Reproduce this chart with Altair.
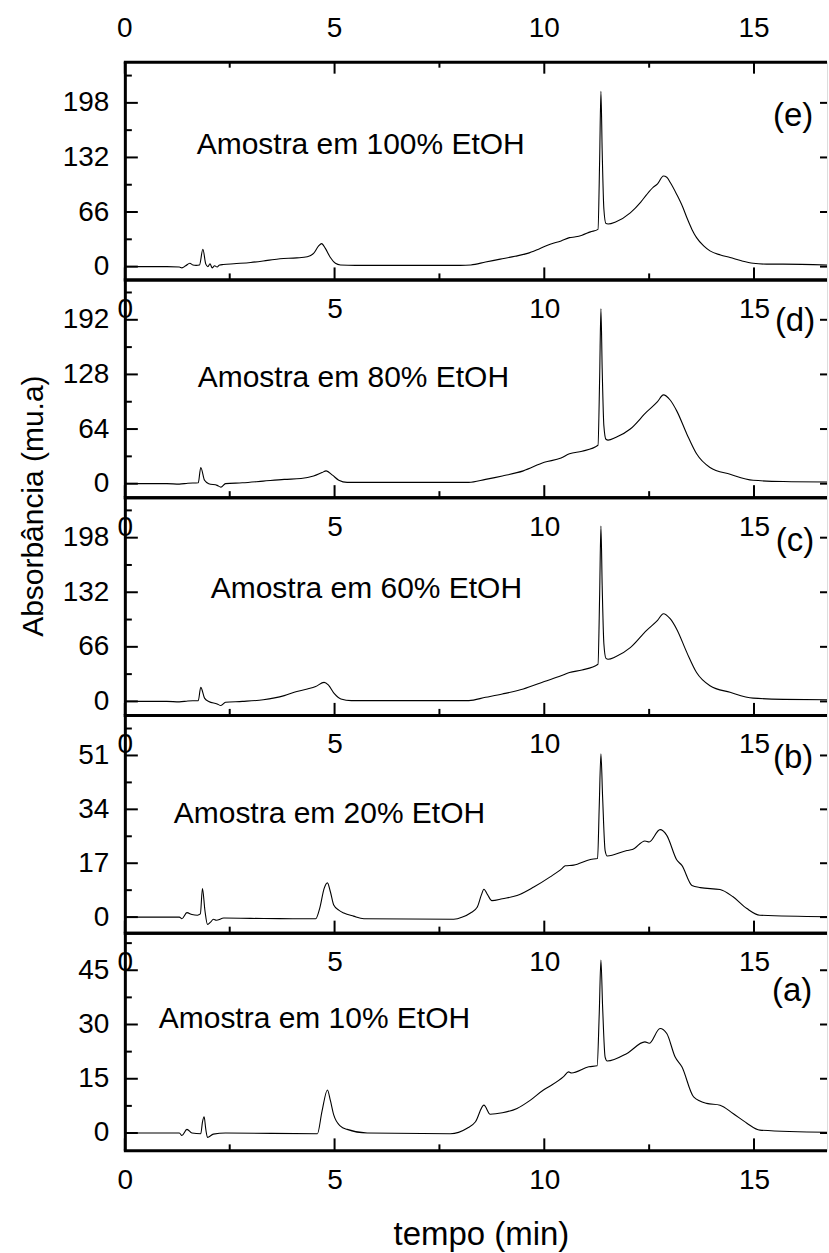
import altair as alt
import pandas as pd

FONT = "Liberation Sans"
W, H = 703, 218
X_DOMAIN = [0, 16.74]
X_MAJOR = [0, 5, 10, 15]
X_MINOR = [2.5, 7.5, 12.5]

# ---- panel (e) 100% EtOH
e_t = [0.0, 1.0, 1.3, 1.36, 1.45, 1.55, 1.62, 1.7, 1.78, 1.86, 1.93, 1.98, 2.03, 2.08, 2.14, 2.2, 2.26,
       2.35, 2.6, 3.0, 3.4, 3.7, 4.1, 4.35, 4.5, 4.62, 4.69, 4.78, 4.9, 5.02, 5.14, 5.5, 8.0, 8.25, 8.6,
       8.95, 9.3, 9.6, 9.9, 10.14, 10.4, 10.6, 10.75, 10.9, 11.1, 11.28, 11.32, 11.35, 11.38, 11.42,
       11.47, 11.52, 11.7, 12.05, 12.3, 12.44, 12.6, 12.7, 12.84, 12.92, 13.0, 13.16, 13.3, 13.4, 13.52,
       13.63, 13.8, 13.95, 14.2, 14.43, 14.7, 14.98, 15.3, 15.69, 16.74]
e_v = [0, 0, -0.5, -1.5, 1, 4, 2, 1.5, 2, 21, 3, 0, 3.5, -1.5, 1, -0.5, 2,
       2.5, 3.5, 5, 7.5, 9.5, 10.5, 12, 16, 25, 27.8, 22, 11, 4, 2, 1.5, 1.5, 2, 5.5,
       9, 12.5, 16, 22, 27, 31, 35, 36, 38, 42, 45, 130, 212, 140, 70,
       52, 51.5, 54, 65, 78, 87, 96, 100, 109.5, 108, 102, 87, 72, 59, 45,
       35, 25, 19, 14, 11, 7, 4, 3, 3, 2]

# ---- panel (d) 80% EtOH
d_t = [0.0, 1.0, 1.3, 1.5, 1.75, 1.81, 1.9, 2.0, 2.2, 2.29, 2.4, 2.8, 3.3, 3.8, 4.2, 4.5, 4.7, 4.8,
       4.95, 5.1, 5.3, 8.2, 8.6, 9.0, 9.5, 10.0, 10.4, 10.6, 10.9, 11.28, 11.32, 11.35, 11.38, 11.42,
       11.47, 11.52, 11.7, 12.05, 12.44, 12.7, 12.84, 13.0, 13.16, 13.4, 13.63, 13.95, 14.43, 14.98,
       15.7, 16.74]
d_v = [0, 0, -0.5, 0.5, 1, 19, 4, 0, -2, -4, 0, 1, 3, 5, 6, 9, 13, 15,
       10, 4, 1.5, 1.5, 5, 9, 15, 25, 30, 35, 38, 45, 125, 205, 135, 68,
       52, 51, 54, 64, 84, 96, 104, 98, 85, 58, 35, 19, 11, 4,
       2.5, 2]

# ---- panel (c) 60% EtOH
c_t = [0.0, 1.0, 1.3, 1.5, 1.75, 1.81, 1.9, 2.0, 2.2, 2.29, 2.4, 2.8, 3.3, 3.8, 4.1, 4.35, 4.55, 4.75,
       4.85, 5.0, 5.15, 5.4, 8.2, 8.6, 9.0, 9.5, 10.0, 10.4, 10.6, 10.9, 11.28, 11.32, 11.35, 11.38,
       11.42, 11.47, 11.52, 11.7, 12.05, 12.44, 12.7, 12.84, 13.0, 13.16, 13.4, 13.63, 13.95, 14.43,
       14.98, 15.7, 16.74]
c_v = [0, 0, -0.5, 0.5, 1, 17, 4, 0, -3, -5, -1, 0, 2, 7, 12, 15, 18, 23,
       20, 9, 3, 1, 1, 5, 9, 15, 24, 31, 35, 38, 45, 130, 212, 140,
       70, 52, 51, 54, 65, 86, 98, 106, 100, 87, 59, 35, 19, 11,
       4, 2.5, 2]

# ---- panel (b) 20% EtOH
b_t = [0.0, 1.3, 1.36, 1.48, 1.6, 1.73, 1.8, 1.85, 1.91, 1.97, 2.05, 2.11, 2.18, 2.36, 3.0, 4.0, 4.55,
       4.65, 4.75, 4.83, 4.9, 4.98, 5.1, 5.22, 5.45, 5.7, 7.84, 8.05, 8.24, 8.4, 8.5, 8.56, 8.65, 8.75,
       9.0, 9.35, 9.75, 10.14, 10.42, 10.5, 10.7, 11.1, 11.27, 11.31, 11.35, 11.39, 11.45, 11.5, 11.97,
       12.1, 12.4, 12.5, 12.76, 12.92, 13.16, 13.28, 13.52, 13.72, 14.19, 14.5, 14.83, 15.14, 16.74]
b_v = [0, 0, -0.5, 1.4, 0.8, 0.6, 1.0, 9, 2, -2.3, -1.5, -0.7, -1, -0.3, -0.4, -0.5, -0.5,
       3, 9, 10.8, 8, 3.8, 2.2, 1.3, 0.3, -0.5, -0.7, 0, 1.3, 3.1, 7, 8.8, 7, 5.2,
       5.8, 6.8, 9.5, 12.7, 15.3, 16.2, 16.4, 18.2, 18.5, 35, 51.5, 38, 21, 19.3, 21,
       21.3, 24, 23.7, 27.6, 25.8, 18, 16.3, 10, 9.3, 8.7, 6.4, 2.7, 0.6, 0.1]

# ---- panel (a) 10% EtOH
a_t = [0.0, 1.3, 1.36, 1.48, 1.6, 1.81, 1.85, 1.89, 1.93, 1.97, 2.11, 2.4, 4.59, 4.7, 4.83, 4.9, 4.98,
       5.14, 5.3, 5.78, 7.76, 8.16, 8.36, 8.56, 8.71, 9.0, 9.35, 9.67, 9.98, 10.14, 10.46, 10.58, 10.65,
       11.06, 11.26, 11.31, 11.35, 11.39, 11.45, 11.5, 11.97, 12.4, 12.5, 12.76, 12.92, 13.12, 13.28,
       13.56, 13.87, 14.19, 14.5, 14.83, 15.14, 16.74]
a_v = [0, 0, -0.7, 1.0, 0, -0.2, 3, 4.5, 1, -1.2, -0.3, 0, -0.2, 6, 11.9, 9, 5,
       1.9, 1.0, 0, -0.2, 1.3, 3.1, 7.7, 5.2, 5.6, 6.8, 9.1, 11.9, 13, 15.6, 16.9, 16.6,
       18.3, 18.6, 33, 47.8, 35, 21, 19.9, 22, 25.2, 24.8, 28.9, 27.5, 21, 18.3,
       10, 8.2, 7.7, 5.4, 2.7, 0.8, 0.2]

panel_tags = ["(e)", "(d)", "(c)", "(b)", "(a)"]
panel_labels = ["Amostra em 100% EtOH", "Amostra em 80% EtOH", "Amostra em 60% EtOH",
                "Amostra em 20% EtOH", "Amostra em 10% EtOH"]
y_domains = [[-15.5, 247.8], [-15.8, 239.3], [-16.3, 247.0], [-4.9, 63.8], [-4.8, 55.4]]
y_major = [[0, 66, 132, 198], [0, 64, 128, 192], [0, 66, 132, 198], [0, 17, 34, 51], [0, 15, 30, 45]]
y_minor = [[33, 99, 165, 231], [32, 96, 160, 224], [33, 99, 165, 231], [8.5, 25.5, 42.5, 59.5],
           [7.5, 22.5, 37.5, 52.5]]
series = [(e_t, e_v), (d_t, d_v), (c_t, c_v), (b_t, b_v), (a_t, a_v)]
y_title = "Absorbância (mu.a)"
x_title = "tempo (min)"

# layout (pixels relative to each panel's plot area)
label_pos = [(72, 83), (73, 99), (86, 92), (49, 99), (34, 86)]
tag_pos = [(669, 54), (671, 42), (671, 44), (669, 43), (668, 58)]

BLACK = "black"
TICK_FS = 28


def one(df_cols):
    return pd.DataFrame(df_cols)


def make_panel(i):
    t, v = series[i]
    xs = alt.Scale(domain=X_DOMAIN, nice=False, zero=False)
    ys = alt.Scale(domain=y_domains[i], nice=False, zero=False)
    xaxis = alt.Axis(
        values=X_MAJOR, ticks=False, grid=False, domain=False, labelFontSize=TICK_FS,
        labelPadding=16, labelFont=FONT, labelColor=BLACK,
        labelFlush=False, labelOverlap=False, title=None, format="d")
    yaxis = alt.Axis(
        values=y_major[i], ticks=False, grid=False, labelFontSize=TICK_FS, labelPadding=16,
        labelFont=FONT, labelColor=BLACK, domainColor=BLACK, domainWidth=3,
        labelFlush=False, labelOverlap=False, title=None, format="d")
    xenc = alt.X("x:Q", scale=xs, axis=xaxis, title=None)
    yenc = alt.Y("y:Q", scale=ys, axis=yaxis, title=None)

    line = alt.Chart(pd.DataFrame({"x": t, "y": v})).mark_line(
        color=BLACK, strokeWidth=1.1, clip=True, interpolate="monotone"
    ).encode(x=xenc, y=yenc)
    layers = [line]
    # bottom and top frame lines
    layers.append(alt.Chart(one({"x": [0]})).mark_rule(color=BLACK, strokeWidth=3).encode(
        x=alt.value(-1), x2=alt.value(W), y=alt.value(H + 0.5)))
    layers.append(alt.Chart(one({"x": [0]})).mark_rule(color=BLACK, strokeWidth=3).encode(
        x=alt.value(-1), x2=alt.value(W), y=alt.value(0.5)))
    # bottom ticks
    layers.append(alt.Chart(one({"x": X_MAJOR})).mark_rule(color=BLACK, strokeWidth=2).encode(
        x=xenc, y=alt.value(H), y2=alt.value(H - 12)))
    layers.append(alt.Chart(one({"x": X_MINOR})).mark_rule(color=BLACK, strokeWidth=2).encode(
        x=xenc, y=alt.value(H), y2=alt.value(H - 6)))
    # left ticks
    layers.append(alt.Chart(one({"y": y_major[i]})).mark_rule(color=BLACK, strokeWidth=2).encode(
        y=yenc, x=alt.value(0), x2=alt.value(13)))
    layers.append(alt.Chart(one({"y": y_minor[i]})).mark_rule(color=BLACK, strokeWidth=2).encode(
        y=yenc, x=alt.value(0), x2=alt.value(7)))
    # right ticks
    layers.append(alt.Chart(one({"y": y_major[i]})).mark_rule(color=BLACK, strokeWidth=2).encode(
        y=yenc, x=alt.value(W - 7), x2=alt.value(W)))
    if i == 0:
        layers.append(alt.Chart(one({"x": X_MAJOR})).mark_rule(color=BLACK, strokeWidth=2).encode(
            x=xenc, y=alt.value(0), y2=alt.value(12)))
        layers.append(alt.Chart(one({"x": X_MINOR})).mark_rule(color=BLACK, strokeWidth=2).encode(
            x=xenc, y=alt.value(0), y2=alt.value(6)))
        layers.append(alt.Chart(one({"x": X_MAJOR})).mark_text(
            font=FONT, fontSize=TICK_FS, color=BLACK, align="center", baseline="middle").encode(
            x=xenc, y=alt.value(-33), text=alt.Text("x:Q", format="d")))
        # invisible anchor fixing the top-left corner of the figure
        layers.append(alt.Chart(one({"x": [0]})).mark_rule(opacity=0, strokeWidth=0).encode(
            x=alt.value(-124), x2=alt.value(-123), y=alt.value(-60)))
    # annotations
    lx, ly = label_pos[i]
    layers.append(alt.Chart(one({"s": [panel_labels[i]]})).mark_text(
        font=FONT, fontSize=30, color=BLACK, align="left", baseline="middle").encode(
        x=alt.value(lx), y=alt.value(ly), text="s:N"))
    tx, ty = tag_pos[i]
    layers.append(alt.Chart(one({"s": [panel_tags[i]]})).mark_text(
        font=FONT, fontSize=33, color=BLACK, align="center", baseline="middle").encode(
        x=alt.value(tx), y=alt.value(ty), text="s:N"))
    if i == 2:
        layers.append(alt.Chart(one({"s": [y_title]})).mark_text(
            font=FONT, fontSize=30, color=BLACK, align="center", baseline="middle", angle=270).encode(
            x=alt.value(-91), y=alt.value(9), text="s:N"))
    if i == 4:
        layers.append(alt.Chart(one({"s": [x_title]})).mark_text(
            font=FONT, fontSize=33, color=BLACK, align="center", baseline="middle").encode(
            x=alt.value(357), y=alt.value(H + 85), text="s:N"))
    return alt.layer(*layers).properties(width=W, height=H)


chart = alt.vconcat(*[make_panel(i) for i in range(5)], spacing=0, bounds="flush").properties(
    padding=0
).configure_view(stroke="transparent", strokeWidth=0).configure(font=FONT)

chart.save("out.html", embed_options={"renderer": "svg", "actions": False})
